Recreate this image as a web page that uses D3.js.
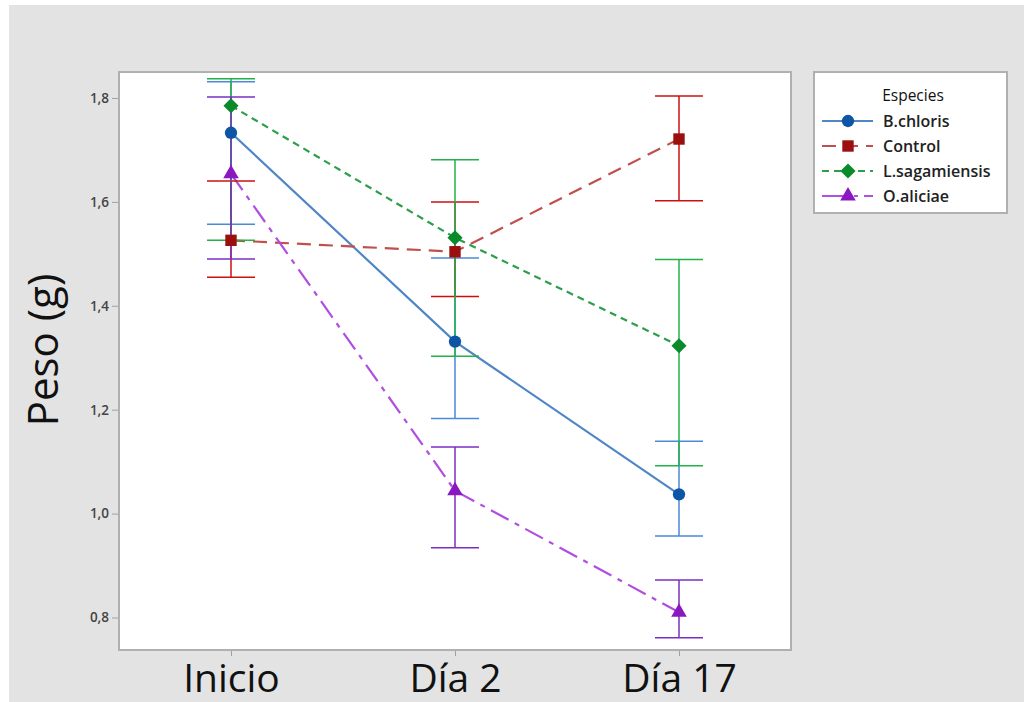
<!DOCTYPE html>
<html><head><meta charset="utf-8">
<script src="https://cdn.jsdelivr.net/npm/d3@7/dist/d3.min.js"></script>
<style>body{margin:0;background:#fff}svg{display:block}</style>
</head><body>
<svg id="c" width="1024" height="702"></svg>
<script>
const categories = ["Inicio", "Día 2", "Día 17"];
const seriesNames = ["B.chloris", "Control", "L.sagamiensis", "O.aliciae"];
const yTicks = [0.8, 1.0, 1.2, 1.4, 1.6, 1.8];

const bchloris   = [1.733, 1.331, 1.037];
const bchlorisHi = [1.831, 1.492, 1.139];
const bchlorisLo = [1.557, 1.183, 0.957];
const control    = [1.526, 1.504, 1.721];
const controlHi  = [1.640, 1.600, 1.804];
const controlLo  = [1.455, 1.418, 1.602];
const lsag       = [1.785, 1.531, 1.323];
const lsagHi     = [1.837, 1.681, 1.489];
const lsagLo     = [1.526, 1.303, 1.092];
const oalic      = [1.654, 1.044, 0.810];
const oalicHi    = [1.802, 1.128, 0.872];
const oalicLo    = [1.490, 0.934, 0.761];

const styles = [
  {line:"#4f86c6", marker:"#0d56a6", bar:"#4a8ad8", dash:null, sym:d3.symbolCircle, size:120, rot:0},
  {line:"#c0504d", marker:"#9b0f0f", bar:"#cc1010", dash:"14,8", sym:d3.symbolSquare, size:130, rot:0},
  {line:"#2e9e4a", marker:"#0a8a2a", bar:"#21b24b", dash:"7,5", sym:d3.symbolSquare, size:115, rot:45},
  {line:"#b04ee0", marker:"#8a18c0", bar:"#7a2fc0", dash:"20,7,5,7", sym:d3.symbolTriangle, size:105, rot:0}
];
const series = [
  {name:seriesNames[0], v:bchloris, hi:bchlorisHi, lo:bchlorisLo},
  {name:seriesNames[1], v:control, hi:controlHi, lo:controlLo},
  {name:seriesNames[2], v:lsag, hi:lsagHi, lo:lsagLo},
  {name:seriesNames[3], v:oalic, hi:oalicHi, lo:oalicLo}
];

const svg = d3.select("#c");
svg.append("rect").attr("x",9).attr("y",5).attr("width",1015).attr("height",697).attr("fill","#e3e3e3");

const P = {l:119, t:72, r:791, b:650};
const x = d3.scalePoint().domain(categories).range([P.l, P.r]).padding(0.5);
const y = d3.scaleLinear().domain([0.7374, 1.850]).range([P.b, P.t]);

svg.append("rect").attr("x",P.l).attr("y",P.t).attr("width",P.r-P.l).attr("height",P.b-P.t)
  .attr("fill","#fff").attr("stroke","#b0b0b0").attr("stroke-width",2);

// y axis
const ya = svg.append("g").attr("transform",`translate(${P.l-1},0)`)
  .call(d3.axisLeft(y).tickValues(yTicks).tickSize(6).tickPadding(3).tickFormat(d=>d3.format(".1f")(d).replace(".",",")));
ya.select(".domain").remove();
ya.selectAll("line").attr("stroke","#a0a0a0");
ya.selectAll("text").attr("font-family","Open Sans").attr("font-size",13.5).attr("font-weight",600).attr("fill","#444");

// x axis
const xa = svg.append("g").attr("transform",`translate(0,${P.b+1})`)
  .call(d3.axisBottom(x).tickSize(5).tickPadding(8));
xa.select(".domain").remove();
xa.selectAll("line").attr("stroke","#a0a0a0");
xa.selectAll("text").attr("font-family","Open Sans").attr("font-size",39).attr("fill","#111").attr("dy","0.71em");

svg.append("text").attr("transform","translate(58,350) rotate(-90)").attr("text-anchor","middle")
  .attr("font-family","Open Sans").attr("font-size",42).attr("fill","#111").text("Peso (g)");

const mk = st => d3.symbol().type(st.sym).size(st.size)();
const g = svg.append("g");
// lines
series.forEach((s,i)=>{
  const st = styles[i];
  g.append("path").datum(categories.map((c,j)=>[x(c), y(s.v[j])]))
    .attr("d", d3.line()).attr("fill","none").attr("stroke",st.line).attr("stroke-width",2.2)
    .attr("stroke-dasharray", st.dash);
});
// error bars
const cap = 24;
series.forEach((s,i)=>{
  const st = styles[i];
  categories.forEach((c,j)=>{
    const cx = x(c);
    g.append("line").attr("x1",cx).attr("x2",cx).attr("y1",y(s.hi[j])).attr("y2",y(s.lo[j]))
      .attr("stroke",st.bar).attr("stroke-width",1.5);
    [s.hi[j], s.lo[j]].forEach(v=>{
      g.append("line").attr("x1",cx-cap).attr("x2",cx+cap).attr("y1",y(v)).attr("y2",y(v))
        .attr("stroke",st.bar).attr("stroke-width",1.5);
    });
  });
});
// markers
series.forEach((s,i)=>{
  const st = styles[i];
  categories.forEach((c,j)=>{
    g.append("path").attr("d", mk(st))
      .attr("transform",`translate(${x(c)},${y(s.v[j])}) rotate(${st.rot})`).attr("fill",st.marker);
  });
});

// legend
const L = {x:814, y:72, w:193, h:141};
svg.append("rect").attr("x",L.x).attr("y",L.y).attr("width",L.w).attr("height",L.h)
  .attr("fill","#fff").attr("stroke","#b0b0b0").attr("stroke-width",2);
svg.append("text").attr("x",913).attr("y",101).attr("text-anchor","middle")
  .attr("font-family","Open Sans").attr("font-size",15.5).attr("fill","#111").text("Especies");
series.forEach((s,i)=>{
  const st = styles[i];
  const ly = 121 + i*25;
  svg.append("line").attr("x1",822).attr("x2",873).attr("y1",ly).attr("y2",ly)
    .attr("stroke",st.line).attr("stroke-width",2.2).attr("stroke-dasharray", st.dash ? (i===3?"26,6,4,6":st.dash) : null);
  svg.append("path").attr("d", mk(st))
    .attr("transform",`translate(848,${ly}) rotate(${st.rot})`).attr("fill",st.marker);
  svg.append("text").attr("x",883).attr("y",ly+5.5).attr("font-family","Open Sans").attr("font-size",16)
    .attr("font-weight",600).attr("fill","#222").text(s.name);
});
</script>
</body></html>
